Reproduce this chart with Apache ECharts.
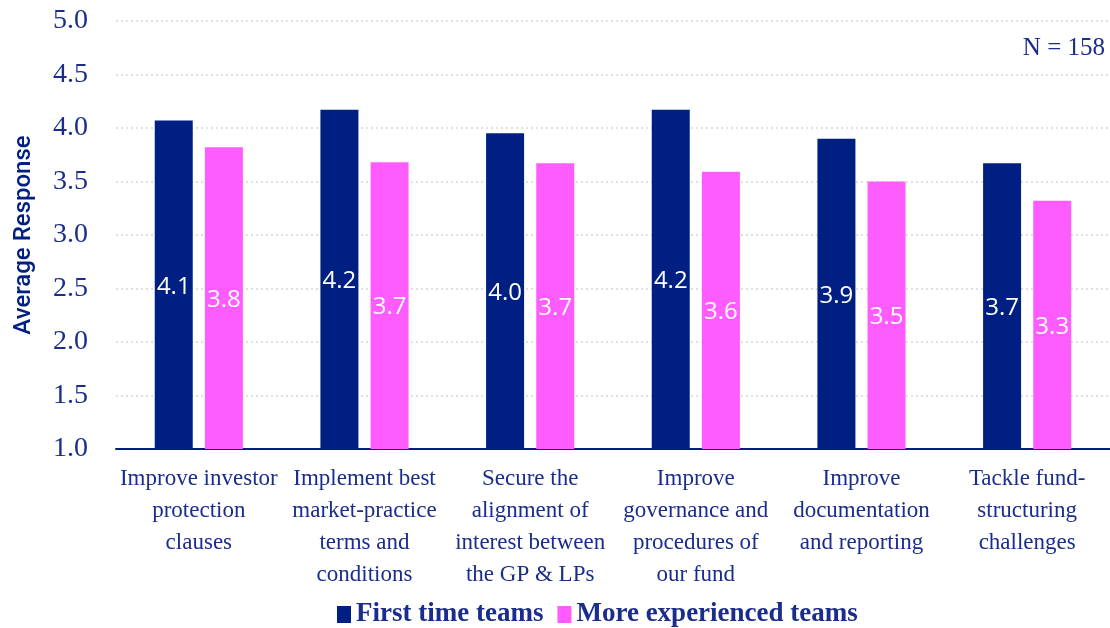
<!DOCTYPE html>
<html><head><meta charset="utf-8">
<script src="https://cdn.jsdelivr.net/npm/echarts@6/dist/echarts.min.js"></script>
<style>html,body{margin:0;padding:0;background:#fff}#c{width:1110px;height:628px}</style>
</head><body><div id="c"></div>
<script>
const categories = [
  "Improve investor\nprotection\nclauses",
  "Implement best\nmarket-practice\nterms and\nconditions",
  "Secure the\nalignment of\ninterest between\nthe GP & LPs",
  "Improve\ngovernance and\nprocedures of\nour fund",
  "Improve\ndocumentation\nand reporting",
  "Tackle fund-\nstructuring\nchallenges"
];
const firstTime = [4.07, 4.17, 3.95, 4.17, 3.90, 3.67];
const experienced = [3.82, 3.68, 3.67, 3.59, 3.50, 3.32];
const seriesNames = ["First time teams", "More experienced teams"];
const navy = "#001f82", pink = "#ff5cff", textC = "#1b2d8a";
const serif = "'Liberation Serif', 'DejaVu Serif', serif";
const sans = "'Open Sans', 'Noto Sans', sans-serif";
const chart = echarts.init(document.getElementById('c'));
const lbl = {show: true, position: 'inside', color: '#fff', fontFamily: sans, fontSize: 24, offset: [0, 2],
  formatter: p => p.value.toFixed(1)};
chart.setOption({
  animation: false,
  grid: {left: 116, right: 0, top: 21, bottom: 179},
  legend: {top: 596, left: 332, itemWidth: 14, itemHeight: 17, itemGap: 14,
    icon: 'rect', textStyle: {fontFamily: serif, fontSize: 27, color: textC, fontWeight: 'bold'},
    data: seriesNames},
  graphic: [{type: 'text', right: 5, top: 36, style: {text: 'N = 158', font: "25px " + serif, fill: textC}}],
  xAxis: {type: 'category', data: categories,
    axisLine: {lineStyle: {color: navy, width: 2}}, axisTick: {show: false},
    axisLabel: {interval: 0, color: textC, fontFamily: serif, fontSize: 23, lineHeight: 32, margin: 14}},
  yAxis: {type: 'value', min: 1.0, max: 5.0, interval: 0.5,
    name: 'Average Response', nameLocation: 'middle', nameGap: 80,
    nameTextStyle: {fontFamily: "Roboto, sans-serif", fontSize: 24, color: navy, fontWeight: 500},
    axisLabel: {formatter: v => v.toFixed(1), color: textC, fontFamily: serif, fontSize: 28, margin: 28},
    splitLine: {lineStyle: {color: '#d6d6d6', type: [2, 3], width: 1.5}},
    axisLine: {show: false}, axisTick: {show: false}},
  series: [
    {name: seriesNames[0], type: 'bar', data: firstTime, barWidth: 38, barGap: '32%',
      itemStyle: {color: navy}, label: lbl},
    {name: seriesNames[1], type: 'bar', data: experienced, barWidth: 38,
      itemStyle: {color: pink}, label: lbl}
  ]
});
</script></body></html>
